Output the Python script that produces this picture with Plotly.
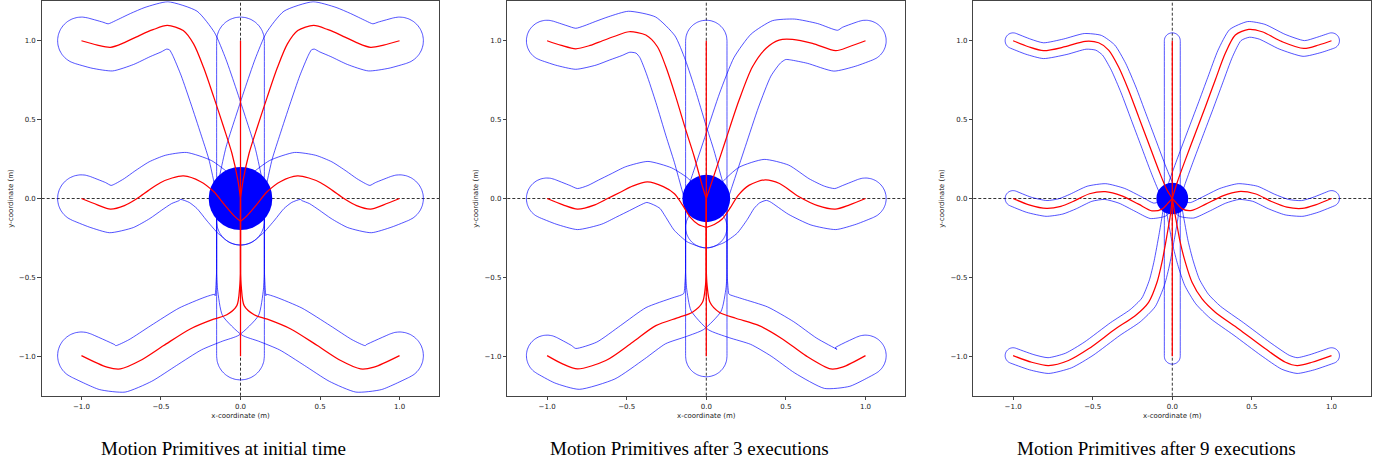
import numpy as np
import plotly.graph_objects as go

# ---------------- data ----------------
CAPTIONS = ["Motion Primitives at initial time",
            "Motion Primitives after 3 executions",
            "Motion Primitives after 9 executions"]
TICKS = [-1.0, -0.5, 0.0, 0.5, 1.0]
AXIS_RANGE = [-1.25, 1.25]
TUBE_RADIUS = [0.15, 0.13, 0.05]      # half width of blue tubes per panel
ROBOT_RADIUS = [0.20, 0.15, 0.10]     # filled blue circle per panel

VERT_UP = [(0.0, 0.0), (0.0, 0.5), (0.0, 1.0)]
VERT_DOWN = [(0.0, 0.0), (0.0, -0.5), (0.0, -1.0)]

# panel 1 : initial time
P1_UPPER_LEFT = [(0, 0), (-0.017, 0.118), (-0.054, 0.287), (-0.107, 0.456), (-0.169, 0.646),
                 (-0.232, 0.83), (-0.295, 0.98), (-0.36, 1.065), (-0.46, 1.097), (-0.55, 1.07),
                 (-0.63, 1.036), (-0.73, 0.988), (-0.818, 0.958), (-0.90, 0.972), (-1.0, 1.0)]
P1_UPPER_RIGHT = [(0, 0), (0.017, 0.118), (0.054, 0.287), (0.107, 0.456), (0.169, 0.646),
                  (0.232, 0.83), (0.295, 0.98), (0.36, 1.065), (0.46, 1.097), (0.55, 1.07),
                  (0.63, 1.036), (0.73, 0.988), (0.818, 0.958), (0.90, 0.972), (1.0, 1.0)]
P1_MID_LEFT = [(0, -0.145), (-0.04, -0.11), (-0.10, -0.04), (-0.169, 0.044), (-0.253, 0.108),
               (-0.358, 0.143), (-0.43, 0.13), (-0.504, 0.10), (-0.58, 0.05), (-0.65, 0.0),
               (-0.73, -0.045), (-0.818, -0.067), (-0.9, -0.04), (-1.0, 0.0)]
P1_MID_RIGHT = [(0, -0.145), (0.04, -0.11), (0.10, -0.04), (0.169, 0.044), (0.253, 0.108),
                (0.358, 0.143), (0.43, 0.13), (0.504, 0.10), (0.58, 0.05), (0.65, 0.0),
                (0.73, -0.045), (0.818, -0.067), (0.9, -0.04), (1.0, 0.0)]
P1_LOW_LEFT = [(0, 0), (0, -0.25), (0, -0.45), (-0.005, -0.56), (-0.023, -0.679), (-0.086, -0.737),
               (-0.169, -0.765), (-0.316, -0.827), (-0.483, -0.932), (-0.63, -1.027),
               (-0.755, -1.08), (-0.839, -1.069), (-1.0, -0.996)]
P1_LOW_RIGHT = [(0, 0), (0, -0.25), (0, -0.45), (0.005, -0.56), (0.023, -0.679), (0.086, -0.737),
                (0.169, -0.765), (0.316, -0.827), (0.483, -0.932), (0.63, -1.027),
                (0.755, -1.08), (0.839, -1.069), (1.0, -0.996)]

# panel 2 : after 3 executions
P2_UPPER_LEFT = [(0, 0), (-0.024, 0.076), (-0.076, 0.266), (-0.129, 0.435), (-0.192, 0.646),
                 (-0.254, 0.835), (-0.307, 0.962), (-0.38, 1.036), (-0.485, 1.057), (-0.57, 1.03),
                 (-0.652, 1.0), (-0.73, 0.97), (-0.82, 0.949), (-0.91, 0.97), (-1.0, 1.0)]
P2_UPPER_RIGHT = [(0, 0), (0.039, 0.118), (0.122, 0.371), (0.206, 0.624), (0.29, 0.835),
                  (0.374, 0.951), (0.457, 1.004), (0.541, 1.008), (0.667, 0.983),
                  (0.813, 0.937), (0.897, 0.962), (1.0, 1.0)]
P2_MID_LEFT = [(0, -0.183), (-0.05, -0.165), (-0.10, -0.12), (-0.15, -0.04), (-0.20, 0.03),
               (-0.27, 0.075), (-0.37, 0.105), (-0.46, 0.08), (-0.54, 0.04), (-0.62, 0.0),
               (-0.70, -0.04), (-0.809, -0.067), (-0.9, -0.04), (-1.0, 0.0)]
P2_MID_RIGHT = [(0, -0.183), (0.05, -0.165), (0.10, -0.13), (0.15, -0.06), (0.20, 0.02),
                (0.27, 0.085), (0.37, 0.118), (0.46, 0.095), (0.58, 0.013), (0.70, -0.045),
                (0.81, -0.067), (0.9, -0.04), (1.0, 0.0)]
P2_LOW_LEFT = [(0, 0), (0, -0.25), (0, -0.45), (-0.005, -0.55), (-0.024, -0.658), (-0.087, -0.721),
               (-0.171, -0.753), (-0.317, -0.806), (-0.463, -0.911), (-0.631, -1.027),
               (-0.809, -1.08), (-0.9, -1.05), (-1.0, -0.996)]
P2_LOW_RIGHT = [(0, 0), (0, -0.25), (0, -0.45), (0.005, -0.55), (0.023, -0.658), (0.081, -0.721),
                (0.185, -0.759), (0.332, -0.806), (0.478, -0.89), (0.625, -0.996),
                (0.782, -1.08), (0.855, -1.069), (1.0, -0.996)]

# panel 3 : after 9 executions
P3_UPPER_LEFT = [(0, 0), (-0.034, 0.055), (-0.086, 0.181), (-0.149, 0.35), (-0.212, 0.519),
                 (-0.275, 0.688), (-0.338, 0.835), (-0.40, 0.941), (-0.463, 0.987),
                 (-0.547, 0.996), (-0.673, 0.962), (-0.809, 0.937), (-0.904, 0.962), (-1.0, 1.0)]
P3_UPPER_RIGHT = [(0, 0), (0.029, 0.097), (0.082, 0.245), (0.145, 0.414), (0.208, 0.582),
                  (0.27, 0.751), (0.333, 0.92), (0.396, 1.036), (0.48, 1.072), (0.564, 1.057),
                  (0.69, 0.994), (0.826, 0.951), (0.92, 0.973), (1.0, 1.0)]
P3_MID_LEFT = [(0, 0), (-0.023, -0.025), (-0.065, -0.067), (-0.128, -0.078), (-0.212, -0.036),
               (-0.317, 0.017), (-0.421, 0.044), (-0.52, 0.03), (-0.623, -0.019), (-0.70, -0.05),
               (-0.79, -0.063), (-0.9, -0.04), (-1.0, 0.0)]
P3_MID_RIGHT = [(0, 0), (0.023, -0.025), (0.065, -0.067), (0.124, -0.075), (0.21, -0.036),
                (0.317, 0.017), (0.417, 0.044), (0.52, 0.03), (0.623, -0.019), (0.72, -0.055),
                (0.816, -0.063), (0.9, -0.04), (1.0, 0.0)]
P3_LOW_LEFT = [(0, 0), (-0.013, -0.11), (-0.034, -0.236), (-0.065, -0.405), (-0.096, -0.531),
               (-0.149, -0.658), (-0.233, -0.743), (-0.358, -0.827), (-0.526, -0.953),
               (-0.652, -1.027), (-0.778, -1.059), (-0.883, -1.038), (-1.0, -0.996)]
P3_LOW_RIGHT = [(0, 0), (0.019, -0.11), (0.05, -0.278), (0.082, -0.405), (0.124, -0.531),
                (0.187, -0.637), (0.27, -0.721), (0.417, -0.827), (0.585, -0.953),
                (0.711, -1.038), (0.784, -1.059), (0.878, -1.038), (1.0, -0.996)]

PANELS = [
    [VERT_UP, VERT_DOWN, P1_UPPER_LEFT, P1_UPPER_RIGHT, P1_MID_LEFT, P1_MID_RIGHT, P1_LOW_LEFT, P1_LOW_RIGHT],
    [VERT_UP, VERT_DOWN, P2_UPPER_LEFT, P2_UPPER_RIGHT, P2_MID_LEFT, P2_MID_RIGHT, P2_LOW_LEFT, P2_LOW_RIGHT],
    [VERT_UP, VERT_DOWN, P3_UPPER_LEFT, P3_UPPER_RIGHT, P3_MID_LEFT, P3_MID_RIGHT, P3_LOW_LEFT, P3_LOW_RIGHT],
]

# ---------------- layout / style ----------------
W, H = 1390, 466
X_DOMAINS = [(41.7 / W, 439.3 / W), (507.3 / W, 905.3 / W), (973.3 / W, 1371.3 / W)]
Y_DOMAIN = (70.3 / H, 464.7 / H)
CAPTION_X = [224 / W, 689.5 / W, 1156 / W]
RED = "#ff0000"
BLUE_LINE = "rgba(0,0,255,0.68)"
FRAME = "#444444"


def tube_outline(pts, r):
    """Outline of a tube of radius r around a path (normal offsets + round end caps)."""
    p = np.asarray(pts, dtype=float)
    t = np.gradient(p, axis=0)
    t /= np.linalg.norm(t, axis=1, keepdims=True)
    n = np.column_stack([-t[:, 1], t[:, 0]])
    left = p + r * n
    right = p - r * n
    a_end = np.arctan2(n[-1, 1], n[-1, 0])
    ang_e = np.linspace(a_end, a_end - np.pi, 15)
    cap_end = p[-1] + r * np.column_stack([np.cos(ang_e), np.sin(ang_e)])
    a_st = np.arctan2(n[0, 1], n[0, 0])
    ang_s = np.linspace(a_st + np.pi, a_st, 15)
    cap_st = p[0] + r * np.column_stack([np.cos(ang_s), np.sin(ang_s)])
    return np.vstack([left, cap_end, right[::-1], cap_st, left[:1]])


fig = go.Figure()
shapes = []
annotations = []

for i, paths in enumerate(PANELS):
    xa = "x" if i == 0 else f"x{i + 1}"
    ya = "y" if i == 0 else f"y{i + 1}"
    r = TUBE_RADIUS[i]
    # blue tubes
    for path in paths:
        o = tube_outline(path, r)
        fig.add_trace(go.Scatter(x=o[:, 0], y=o[:, 1], mode="lines", xaxis=xa, yaxis=ya,
                                 line=dict(color=BLUE_LINE, width=1, shape="spline", smoothing=0.6),
                                 hoverinfo="skip", showlegend=False))
    # red primitives
    for path in paths:
        p = np.asarray(path, dtype=float)
        fig.add_trace(go.Scatter(x=p[:, 0], y=p[:, 1], mode="lines", xaxis=xa, yaxis=ya,
                                 line=dict(color=RED, width=1.25, shape="spline", smoothing=0.8),
                                 hoverinfo="skip", showlegend=False))
    # robot footprint (below traces; blue tube lines vanish on it, red stays visible)
    rr = ROBOT_RADIUS[i]
    shapes.append(dict(type="circle", xref=xa, yref=ya, x0=-rr, x1=rr, y0=-rr, y1=rr,
                       fillcolor="#0000ff", line=dict(width=0), layer="below"))
    # dashed axes through the origin (above the disc, below the primitives)
    shapes.append(dict(type="line", xref=f"{xa} domain", yref=ya, x0=0, x1=1, y0=0, y1=0,
                       line=dict(color="black", width=0.8, dash="3px,2px"), layer="below"))
    shapes.append(dict(type="line", xref=xa, yref=f"{ya} domain", x0=0, x1=0, y0=0, y1=1,
                       line=dict(color="black", width=0.8, dash="3px,2px"), layer="below"))
    # caption
    annotations.append(dict(text=CAPTIONS[i], xref="paper", yref="paper", x=CAPTION_X[i],
                            y=(H - 448) / H, xanchor="center", yanchor="middle", showarrow=False,
                            font=dict(family="Liberation Serif", size=19, color="black")))

axis_common = dict(range=AXIS_RANGE, tickvals=TICKS, tickformat=".1f", ticks="outside",
                   ticklen=3.5, tickwidth=0.8, tickcolor=FRAME, showline=True, mirror=True,
                   linecolor=FRAME, linewidth=1, showgrid=False, zeroline=False,
                   tickfont=dict(family="DejaVu Sans", size=7, color="#222222"))

layout = dict(width=W, height=H, margin=dict(l=0, r=0, t=0, b=0),
              paper_bgcolor="white", plot_bgcolor="white",
              shapes=shapes, annotations=annotations, showlegend=False)
for i in range(3):
    sx = "xaxis" if i == 0 else f"xaxis{i + 1}"
    sy = "yaxis" if i == 0 else f"yaxis{i + 1}"
    anchor_y = "y" if i == 0 else f"y{i + 1}"
    anchor_x = "x" if i == 0 else f"x{i + 1}"
    layout[sx] = dict(axis_common, domain=list(X_DOMAINS[i]), anchor=anchor_y,
                      title=dict(text="x-coordinate (m)", standoff=3,
                                 font=dict(family="DejaVu Sans", size=7, color="#222222")))
    layout[sy] = dict(axis_common, domain=list(Y_DOMAIN), anchor=anchor_x,
                      title=dict(text="y-coordinate (m)", standoff=4,
                                 font=dict(family="DejaVu Sans", size=7, color="#222222")))

fig.update_layout(**layout)
fig.write_html("out.html", config={"displayModeBar": False},
               post_script="document.body.style.margin='0px';document.body.style.overflow='hidden';")
